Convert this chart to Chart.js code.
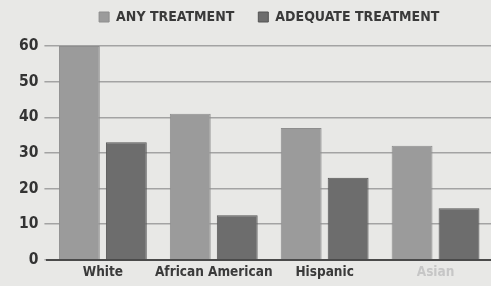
<!DOCTYPE html>
<html>
<head>
<meta charset="utf-8">
<script src="https://cdn.jsdelivr.net/npm/chart.js@4.4.0/dist/chart.umd.min.js"></script>
<style>
html,body{margin:0;padding:0;background:#e8e8e6;}
#wrap{width:491px;height:286px;position:relative;}
</style>
</head>
<body>
<div id="wrap"><canvas id="c" width="491" height="286"></canvas></div>
<script>
const categories = ["White", "African American", "Hispanic", "Asian"];
const anyTreatment = [60, 41, 37, 32];
const adequateTreatment = [33, 12.5, 23, 14.5];
const seriesNames = ["ANY TREATMENT", "ADEQUATE TREATMENT"];
const yTicks = [0, 10, 20, 30, 40, 50, 60];
const labelColors = ["#3a3a3a", "#3a3a3a", "#3a3a3a", "#c6c6c6"];

const bgPlugin = {
  id: 'bg',
  beforeDraw(chart) {
    const ctx = chart.ctx;
    ctx.save();
    ctx.fillStyle = '#e8e8e6';
    ctx.fillRect(0, 0, chart.width, chart.height);
    ctx.restore();
  }
};

const legendPlugin = {
  id: 'legendTweak',
  beforeInit(chart) {
    const lg = chart.legend;
    const orig = lg.fit;
    lg.fit = function () { orig.call(this); this.height -= 2; };
  },
  afterLayout(chart) {
    const lg = chart.legend;
    lg.left = chart.chartArea.left;
    lg.right = chart.chartArea.right;
    lg.top -= 14;
    if (lg.adjustHitBoxes) lg.adjustHitBoxes();
  }
};

new Chart(document.getElementById('c'), {
  type: 'bar',
  data: {
    labels: categories,
    datasets: [
      { label: seriesNames[0], data: anyTreatment, backgroundColor: '#9b9b9b', borderColor: '#8e8e8e', borderWidth: 1,
        categoryPercentage: 0.847, barPercentage: 0.87 },
      { label: seriesNames[1], data: adequateTreatment, backgroundColor: '#6d6d6d', borderColor: '#555555', borderWidth: 1,
        categoryPercentage: 0.847, barPercentage: 0.87 }
    ]
  },
  options: {
    responsive: false,
    animation: false,
    layout: { padding: { left: 13, right: 0, top: 0, bottom: 0 } },
    plugins: {
      legend: {
        display: true,
        position: 'top',
        labels: {
          boxWidth: 10, boxHeight: 10, padding: 24,
          color: '#3a3a3a',
          font: { family: 'DejaVu Sans Condensed', weight: 'bold', size: 14 }
        }
      },
      tooltip: { enabled: false }
    },
    scales: {
      x: {
        grid: { display: false, drawTicks: false },
        border: { display: true, color: '#4a4a4a', width: 2 },
        ticks: {
          color: (ctx) => labelColors[ctx.index],
          font: { family: 'DejaVu Sans Condensed', weight: 'bold', size: 13.5 },
          padding: 5, maxRotation: 0, autoSkip: false
        }
      },
      y: {
        min: 0, max: 60,
        afterBuildTicks: (axis) => { axis.ticks = yTicks.map(v => ({ value: v })); },
        grid: { color: '#a3a3a3', lineWidth: 1.5, tickLength: 3, drawTicks: true },
        border: { display: false },
        ticks: {
          color: '#333333',
          font: { family: 'DejaVu Sans Condensed', weight: 'bold', size: 15.5 },
          padding: 6
        }
      }
    }
  },
  plugins: [bgPlugin, legendPlugin]
});
</script>
</body>
</html>
